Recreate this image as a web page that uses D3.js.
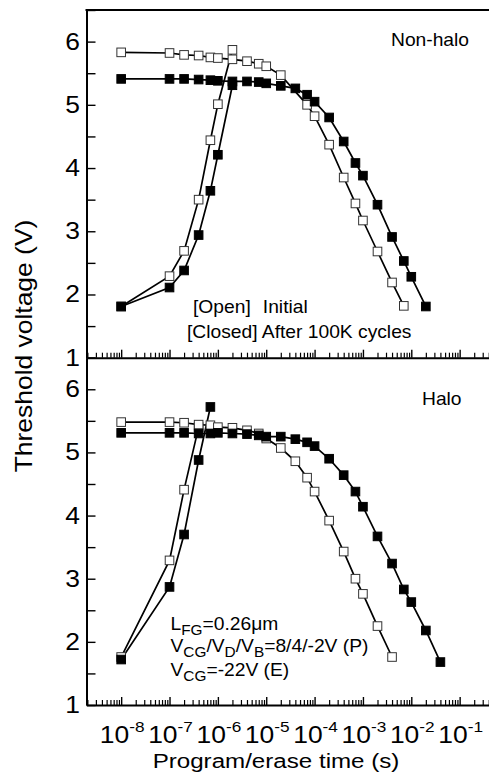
<!DOCTYPE html>
<html>
<head>
<meta charset="utf-8">
<script src="https://cdn.jsdelivr.net/npm/d3@7"></script>
<style>
  html, body { margin: 0; padding: 0; background: #fff; }
  text { font-family: "Liberation Sans", Arial, sans-serif; fill: #000; }
</style>
</head>
<body>
<div id="chart"></div>
<script>

// ---- data ----
// Non-halo panel
var nhProgOpenT   = [1e-8, 1e-7, 2e-7, 4e-7, 7e-7, 1e-6, 2e-6];
var nhProgOpenV   = [1.81, 2.29, 2.69, 3.50, 4.44, 5.01, 5.87];
var nhProgClosedT = [1e-8, 1e-7, 2e-7, 4e-7, 7e-7, 1e-6, 2e-6];
var nhProgClosedV = [1.81, 2.11, 2.38, 2.94, 3.64, 4.21, 5.31];
var nhEraseOpenT  = [1e-8, 1e-7, 2e-7, 4e-7, 7e-7, 1e-6, 2e-6, 4e-6, 7e-6, 1e-5, 2e-5, 7e-5, 1e-4, 2e-4, 4e-4, 7e-4, 1e-3, 2e-3, 4e-3, 7e-3];
var nhEraseOpenV  = [5.83, 5.82, 5.79, 5.78, 5.75, 5.74, 5.72, 5.69, 5.65, 5.61, 5.47, 5.00, 4.82, 4.37, 3.85, 3.44, 3.17, 2.68, 2.19, 1.82];
var nhEraseClosedT = [1e-8, 1e-7, 2e-7, 4e-7, 7e-7, 1e-6, 2e-6, 4e-6, 7e-6, 1e-5, 2e-5, 4e-5, 7e-5, 1e-4, 2e-4, 4e-4, 7e-4, 1e-3, 2e-3, 4e-3, 7e-3, 1e-2, 2e-2];
var nhEraseClosedV = [5.41, 5.41, 5.41, 5.40, 5.39, 5.38, 5.37, 5.37, 5.36, 5.34, 5.30, 5.26, 5.16, 5.05, 4.80, 4.42, 4.08, 3.88, 3.42, 2.91, 2.53, 2.28, 1.81];

// Halo panel
var hProgOpenT   = [1e-8, 1e-7, 2e-7, 4e-7];
var hProgOpenV   = [1.76, 3.29, 4.41, 5.40];
var hProgClosedT = [1e-8, 1e-7, 2e-7, 4e-7, 7e-7];
var hProgClosedV = [1.72, 2.87, 3.70, 4.88, 5.72];
var hEraseOpenT  = [1e-8, 1e-7, 2e-7, 4e-7, 7e-7, 1e-6, 2e-6, 4e-6, 7e-6, 1e-5, 2e-5, 4e-5, 7e-5, 1e-4, 2e-4, 4e-4, 7e-4, 1e-3, 2e-3, 4e-3];
var hEraseOpenV  = [5.48, 5.48, 5.47, 5.44, 5.43, 5.40, 5.39, 5.35, 5.30, 5.22, 5.07, 4.86, 4.60, 4.38, 3.92, 3.43, 3.00, 2.76, 2.25, 1.76];
var hEraseClosedT = [1e-8, 1e-7, 2e-7, 4e-7, 7e-7, 1e-6, 2e-6, 4e-6, 7e-6, 1e-5, 2e-5, 4e-5, 7e-5, 1e-4, 2e-4, 4e-4, 7e-4, 1e-3, 2e-3, 4e-3, 7e-3, 1e-2, 2e-2, 4e-2];
var hEraseClosedV = [5.31, 5.31, 5.31, 5.30, 5.30, 5.31, 5.30, 5.29, 5.27, 5.25, 5.25, 5.21, 5.16, 5.10, 4.90, 4.64, 4.38, 4.14, 3.67, 3.24, 2.83, 2.63, 2.18, 1.68];

// ticks
var xDecades  = [-8, -7, -6, -5, -4, -3, -2, -1];
var yLabels   = [1, 2, 3, 4, 5, 6];
var yTickVals = [1, 1.5, 2, 2.5, 3, 3.5, 4, 4.5, 5, 5.5, 6, 6.5];

// ---- layout ----
var W = 489, H = 773;
var plotL = 86.5, plotR = 508, plotT = 10, plotMid = 357.7, plotB = 705;
var SX = 1.15;   // the original lettering is a bit wide

var svg = d3.select("#chart").append("svg")
    .attr("width", W)
    .attr("height", H);

svg.append("rect").attr("width", W).attr("height", H).attr("fill", "#fff");

var x = d3.scaleLog()
    .domain([Math.pow(10, -8.717), 1])
    .range([plotL, plotR]);

var yTop = d3.scaleLinear().domain([1, 6.5]).range([plotMid, plotT]);
var yBot = d3.scaleLinear().domain([1, 6.5]).range([plotB, plotMid]);

function txt(g, px, py, size, anchor, rot) {
  return g.append("text")
      .attr("transform", "translate(" + px + "," + py + ")" + (rot ? " rotate(" + rot + ")" : "") + " scale(" + SX + ",1)")
      .attr("font-size", size)
      .attr("text-anchor", anchor || "start");
}

var minors = [];
for (var e = -9; e <= -1; e++) {
  for (var k = 2; k <= 9; k++) minors.push(k * Math.pow(10, e));
}
minors = minors.filter(function(v) { return v >= x.domain()[0] && v <= 1; });

function drawPanel(y, yAxisBottom, series) {
  var g = svg.append("g");

  // y axis, ticks inward
  g.append("g")
      .attr("transform", "translate(" + plotL + ",0)")
      .call(d3.axisLeft(y).tickValues(yTickVals).tickSize(-9).tickSizeOuter(0).tickFormat(""))
      .call(function(a) {
        a.select(".domain").attr("stroke-width", 2);
        a.selectAll(".tick line").attr("stroke-width", 1.4);
      });

  yLabels.forEach(function(v) {
    txt(g, 80, y(v) + 8, 23, "end").text(v);
  });

  // x axis at the bottom of the panel, ticks pointing up
  g.append("g")
      .attr("transform", "translate(0," + yAxisBottom + ")")
      .call(d3.axisBottom(x).tickValues(xDecades.map(function(d) { return Math.pow(10, d); }))
            .tickSize(-8).tickSizeOuter(0).tickFormat(""))
      .call(function(a) {
        a.select(".domain").attr("stroke-width", 2);
        a.selectAll(".tick line").attr("stroke-width", 1.4);
      });
  g.append("g")
      .attr("transform", "translate(0," + yAxisBottom + ")")
      .call(d3.axisBottom(x).tickValues(minors).tickSize(-5).tickSizeOuter(0).tickFormat(""))
      .call(function(a) {
        a.select(".domain").remove();
        a.selectAll(".tick line").attr("stroke-width", 1.2);
      });

  var line = d3.line()
      .x(function(d) { return x(d.t); })
      .y(function(d) { return y(d.v); });

  series.forEach(function(s) {
    var pts = s.t.map(function(t, i) { return {t: t, v: s.v[i]}; });
    g.append("path")
        .datum(pts)
        .attr("d", line)
        .attr("fill", "none")
        .attr("stroke", "#000")
        .attr("stroke-width", 1.7);
  });

  // open markers first, filled ones on top
  var order = series.filter(function(s) { return !s.filled; }).concat(series.filter(function(s) { return s.filled; }));
  order.forEach(function(s) {
    var pts = s.t.map(function(t, i) { return {t: t, v: s.v[i]}; });
    g.selectAll(null)
        .data(pts)
        .enter().append("rect")
        .attr("x", function(d) { return x(d.t) - 4.3; })
        .attr("y", function(d) { return y(d.v) - 4.3; })
        .attr("width", 8.6)
        .attr("height", 8.6)
        .attr("fill", s.filled ? "#000" : "#fff")
        .attr("stroke", s.filled ? "#000" : "#333")
        .attr("stroke-width", 1);
  });
  return g;
}

drawPanel(yTop, plotMid, [
  {t: nhProgOpenT, v: nhProgOpenV, filled: false},
  {t: nhProgClosedT, v: nhProgClosedV, filled: true},
  {t: nhEraseOpenT, v: nhEraseOpenV, filled: false},
  {t: nhEraseClosedT, v: nhEraseClosedV, filled: true}
]);

drawPanel(yBot, plotB, [
  {t: hProgOpenT, v: hProgOpenV, filled: false},
  {t: hProgClosedT, v: hProgClosedV, filled: true},
  {t: hEraseOpenT, v: hEraseOpenV, filled: false},
  {t: hEraseClosedT, v: hEraseClosedV, filled: true}
]);

// top frame line
svg.append("line")
    .attr("x1", plotL - 1).attr("x2", plotR)
    .attr("y1", plotT).attr("y2", plotT)
    .attr("stroke", "#000")
    .attr("stroke-width", 2);

// x tick labels (10^n)
xDecades.forEach(function(d) {
  var t = txt(svg, x(Math.pow(10, d)) + 1, 743, 23, "middle");
  t.append("tspan").text("10");
  t.append("tspan").attr("dy", -11).attr("font-size", 15).text(d);
});

// axis titles
txt(svg, 276, 768, 21, "middle").text("Program/erase time (s)");
txt(svg, 32, 346, 23, "middle", -90).text("Threshold voltage (V)");

// annotations, top panel
var AS = 17.5, SS = 14;
SX = 1.1;
txt(svg, 391, 46, AS).text("Non-halo");
var o = txt(svg, 193, 313, AS);
o.append("tspan").text("[Open]");
o.append("tspan").attr("dx", 11).text("Initial");
txt(svg, 187, 338, AS).text("[Closed] After 100K cycles");

// annotations, bottom panel
txt(svg, 422, 405, AS).text("Halo");

var l1 = txt(svg, 170.5, 630, AS);
l1.append("tspan").text("L");
l1.append("tspan").attr("dy", 5).attr("font-size", SS).text("FG");
l1.append("tspan").attr("dy", -5).text("=0.26\u03bcm");

var l2 = txt(svg, 170.5, 652, AS);
l2.append("tspan").text("V");
l2.append("tspan").attr("dy", 5).attr("font-size", SS).text("CG");
l2.append("tspan").attr("dy", -5).text("/V");
l2.append("tspan").attr("dy", 5).attr("font-size", SS).text("D");
l2.append("tspan").attr("dy", -5).text("/V");
l2.append("tspan").attr("dy", 5).attr("font-size", SS).text("B");
l2.append("tspan").attr("dy", -5).text("=8/4/-2V (P)");

var l3 = txt(svg, 170.5, 676, AS);
l3.append("tspan").text("V");
l3.append("tspan").attr("dy", 5).attr("font-size", SS).text("CG");
l3.append("tspan").attr("dy", -5).text("=-22V (E)");

</script>
</body>
</html>
